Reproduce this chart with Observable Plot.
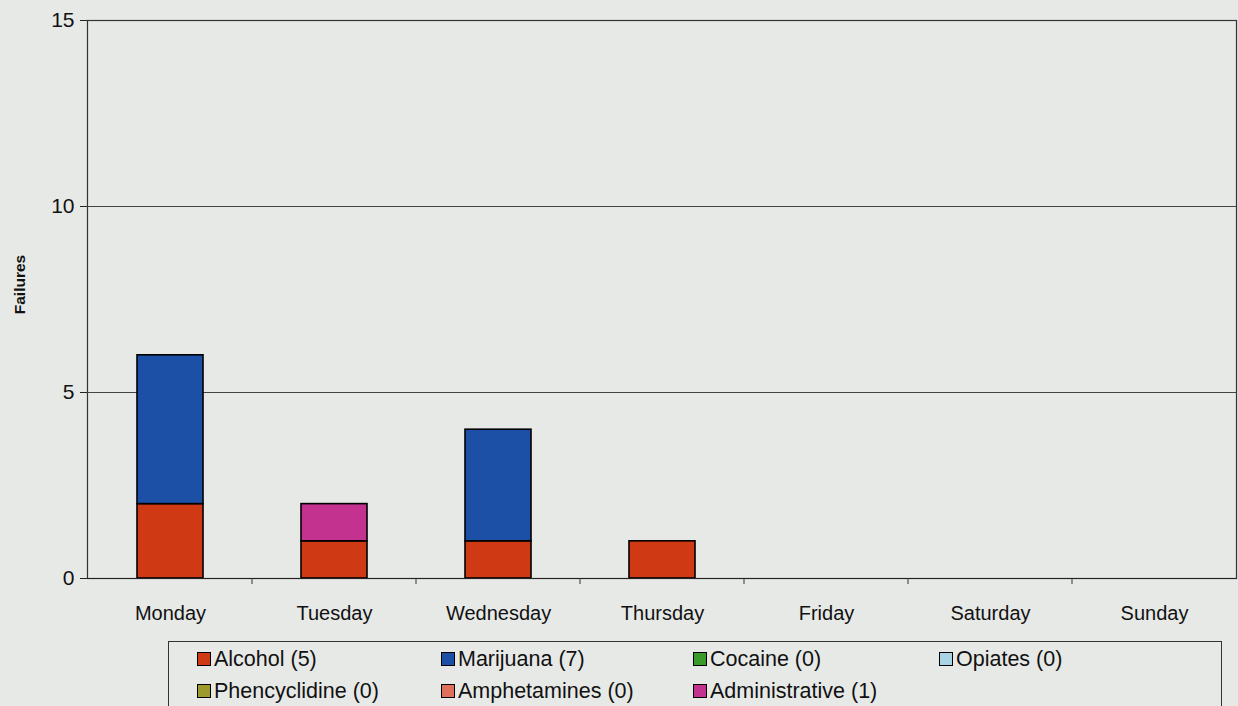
<!DOCTYPE html>
<html>
<head>
<meta charset="utf-8">
<script src="https://cdn.jsdelivr.net/npm/d3@7"></script>
<script src="https://cdn.jsdelivr.net/npm/@observablehq/plot@0.6"></script>
<style>
  html, body { margin: 0; padding: 0; background: #e7e9e7; }
  body { width: 1238px; height: 706px; overflow: hidden; position: relative; font-family: "Liberation Sans", Arial, sans-serif; }
  #chart { position: absolute; left: 0; top: 0; }
  #legend { position: absolute; left: 168px; top: 641px; width: 1054px; height: 80px; border: 1.5px solid #333; box-sizing: border-box;
    display: grid; grid-template-columns: 244px 252px 246px 250px; grid-auto-rows: 32px; padding: 1px 0 0 28px; }
  .item { display: flex; align-items: center; font-size: 21.5px; color: #111; white-space: nowrap; }
  .sw { width: 12px; height: 12px; border: 1.5px solid #000; margin-right: 3px; }
</style>
</head>
<body>
<div id="chart"></div>
<div id="legend"></div>
<script>
const days = ["Monday", "Tuesday", "Wednesday", "Thursday", "Friday", "Saturday", "Sunday"];
const substances = ["Alcohol", "Marijuana", "Cocaine", "Opiates", "Phencyclidine", "Amphetamines", "Administrative"];
const colors = ["#cf3a14", "#1c4fa6", "#3a9a2a", "#a8d4e4", "#9c9a2c", "#e0705c", "#c2328e"];
const alcohol        = [2, 1, 1, 1, 0, 0, 0];
const marijuana      = [4, 0, 3, 0, 0, 0, 0];
const cocaine        = [0, 0, 0, 0, 0, 0, 0];
const opiates        = [0, 0, 0, 0, 0, 0, 0];
const phencyclidine  = [0, 0, 0, 0, 0, 0, 0];
const amphetamines   = [0, 0, 0, 0, 0, 0, 0];
const administrative = [0, 1, 0, 0, 0, 0, 0];
const yTicks = [0, 5, 10, 15];

const seriesValues = [alcohol, marijuana, cocaine, opiates, phencyclidine, amphetamines, administrative];
const rows = [];
substances.forEach((s, i) => days.forEach((d, j) => {
  if (seriesValues[i][j] > 0) rows.push({day: d, substance: s, value: seriesValues[i][j]});
}));

const chart = Plot.plot({
  width: 1238,
  height: 636,
  marginLeft: 87,
  marginRight: 2,
  marginTop: 20,
  marginBottom: 58,
  style: {background: "transparent", fontFamily: "Liberation Sans, Arial, sans-serif", color: "#111"},
  x: {domain: days, paddingInner: 0.6, paddingOuter: 0.3, label: null},
  y: {domain: [0, 15], ticks: yTicks, label: null},
  color: {domain: substances, range: colors},
  marks: [
    Plot.frame({stroke: "#333", strokeWidth: 1.2}),
    Plot.ruleY([5, 10], {stroke: "#444", strokeWidth: 1}),
    Plot.barY(rows, Plot.stackY({x: "day", y: "value", fill: "substance", order: substances, stroke: "#000", strokeWidth: 1.6})),
    Plot.ruleY([0], {stroke: "#222", strokeWidth: 1.2}),
    Plot.axisY({ticks: yTicks, tickSize: 7, tickPadding: 6, fontSize: 21, label: null, stroke: "#222"}),
    Plot.axisX({tickSize: 0, tickPadding: 27, fontSize: 20, label: null}),
    Plot.text(["Failures"], {frameAnchor: "left", textAnchor: "middle", dx: -67, dy: -15, rotate: -90, fontSize: 15.5, fontWeight: "bold"})
  ]
});
document.getElementById("chart").appendChild(chart);

// separator ticks between categories on the x axis
const xs = chart.scale("x");
const ys = chart.scale("y");
const svg = d3.select(chart);
const y0 = ys.apply(0);
days.slice(1).forEach((d) => {
  const bx = xs.apply(d) - (xs.step - xs.bandwidth) / 2;
  svg.append("line").attr("x1", bx).attr("x2", bx).attr("y1", y0).attr("y2", y0 + 6).attr("stroke", "#333").attr("stroke-width", 1);
});

const leg = document.getElementById("legend");
substances.forEach((s, i) => {
  const total = d3.sum(seriesValues[i]);
  const it = document.createElement("div");
  it.className = "item";
  it.innerHTML = `<span class="sw" style="background:${colors[i]}"></span>${s} (${total})`;
  leg.appendChild(it);
});
</script>
</body>
</html>
